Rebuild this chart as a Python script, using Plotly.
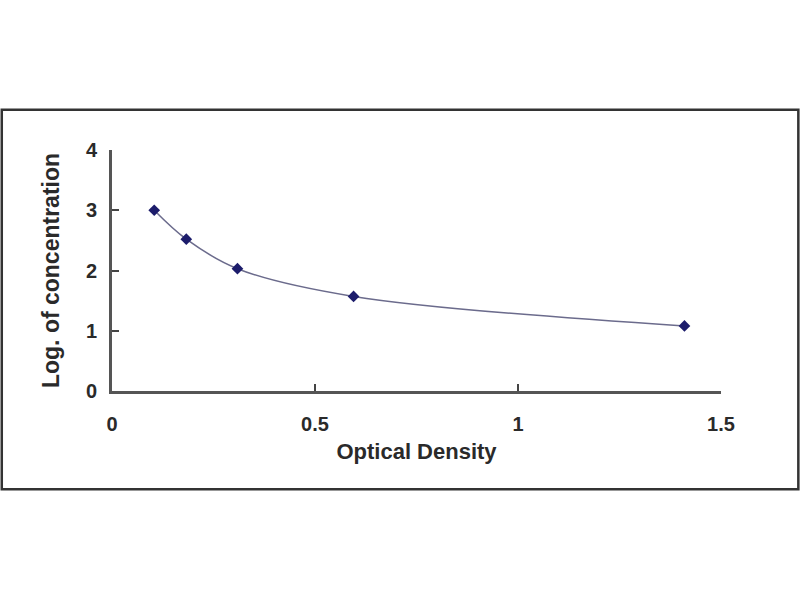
import plotly.graph_objects as go

# standard curve points
optical_density = [0.104, 0.183, 0.309, 0.595, 1.41]
log_concentration = [3.0, 2.52, 2.03, 1.57, 1.08]

x_ticks = [0, 0.5, 1, 1.5]
x_tick_text = ["0", "0.5", "1", "1.5"]
y_ticks = [0, 1, 2, 3, 4]

font_family = "Liberation Sans, Arial, sans-serif"
ink = "#2a2a2a"

fig = go.Figure()
fig.add_trace(go.Scatter(
    x=optical_density,
    y=log_concentration,
    mode="lines+markers",
    line=dict(color="#6b6b8c", width=1.5, shape="spline", smoothing=1.0),
    marker=dict(symbol="diamond", size=9, color="#1c1c6b"),
    showlegend=False,
))

axis_common = dict(
    showgrid=False, zeroline=False,
    showline=True, linecolor="#555555", linewidth=3,
    ticks="inside", ticklen=7, tickwidth=2, tickcolor="#444444",
    tickfont=dict(family=font_family, size=20, color=ink, weight="bold"),
)

fig.update_xaxes(
    range=[0, 1.5], tickvals=x_ticks, ticktext=x_tick_text,
    ticklabelstandoff=13,
    title=dict(text="Optical Density", standoff=10,
               font=dict(family=font_family, size=22, color=ink, weight="bold")),
    **axis_common,
)
fig.update_yaxes(
    range=[0, 4], tickvals=y_ticks,
    ticklabelstandoff=8,
    title=dict(text="Log. of concentration", standoff=20,
               font=dict(family=font_family, size=23, color=ink, weight="bold")),
    **axis_common,
)

# outer frame around the whole chart block
fig.add_shape(
    type="rect", xref="paper", yref="paper",
    x0=-0.181, x1=1.127, y0=-0.408, y1=1.167,
    line=dict(color="#333333", width=2.5),
)

fig.update_layout(
    width=800, height=600,
    margin=dict(l=112, r=79, t=150, b=209),
    plot_bgcolor="white", paper_bgcolor="white",
)

# drop the default page margin so the 800x600 figure fills the window
fig.write_html("out.html", config={"displayModeBar": False},
               post_script="document.body.style.margin='0';")
